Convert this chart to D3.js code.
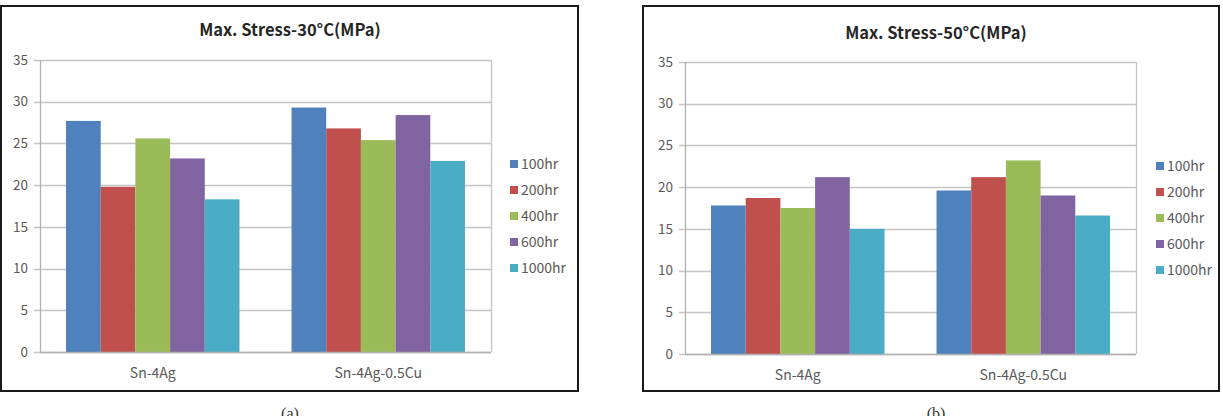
<!DOCTYPE html>
<html>
<head>
<meta charset="utf-8">
<script src="https://cdn.jsdelivr.net/npm/d3@7"></script>
<style>
  html, body { margin: 0; padding: 0; background: #fff; }
  svg { display: block; }
</style>
</head>
<body>
<svg id="chart" width="1223" height="416"></svg>
<script>
// ---- data ----
const categories = ["Sn-4Ag", "Sn-4Ag-0.5Cu"];
const seriesNames = ["100hr", "200hr", "400hr", "600hr", "1000hr"];
const seriesColors = ["#4f81bd", "#c0504d", "#9bbb59", "#8064a2", "#4bacc6"];
const yTicks = [0, 5, 10, 15, 20, 25, 30, 35];

// values per series, per category (Sn-4Ag, Sn-4Ag-0.5Cu)
const stress30_100hr  = [27.7, 29.3];
const stress30_200hr  = [19.8, 26.8];
const stress30_400hr  = [25.6, 25.4];
const stress30_600hr  = [23.2, 28.4];
const stress30_1000hr = [18.3, 22.9];

const stress50_100hr  = [17.8, 19.6];
const stress50_200hr  = [18.7, 21.2];
const stress50_400hr  = [17.5, 23.2];
const stress50_600hr  = [21.2, 19.0];
const stress50_1000hr = [15.0, 16.6];

const title30 = "Max. Stress-30°C(MPa)";
const title50 = "Max. Stress-50°C(MPa)";
const caption30 = "(a)";
const caption50 = "(b)";

// ---- drawing ----
const svg = d3.select("#chart");
const FONT = "'Noto Sans CJK KR', 'Noto Sans', sans-serif";

function drawChart(opt) {
  const g = svg.append("g");
  const seriesData = opt.series;

  // outer frame
  g.append("rect")
    .attr("x", opt.frame.x).attr("y", opt.frame.y)
    .attr("width", opt.frame.w).attr("height", opt.frame.h)
    .attr("fill", "#fff").attr("stroke", "#1a1a1a").attr("stroke-width", 2);

  const x0 = d3.scaleBand().domain(categories).range([opt.plot.x, opt.plot.x + opt.plot.w]).padding(0);
  const x1 = d3.scaleBand().domain(seriesNames).range([0, x0.bandwidth()]).paddingInner(0).paddingOuter(0.75);
  const y = d3.scaleLinear().domain([0, 35]).range([opt.plot.y + opt.plot.h, opt.plot.y]);

  // gridlines
  g.append("g").selectAll("line").data(yTicks).join("line")
    .attr("x1", opt.plot.x - 6).attr("x2", opt.plot.x + opt.plot.w)
    .attr("y1", d => Math.round(y(d)) + 0.5).attr("y2", d => Math.round(y(d)) + 0.5)
    .attr("stroke", "#c4c4c4").attr("stroke-width", 1.3);

  // plot outline (right side)
  g.append("line")
    .attr("x1", opt.plot.x + opt.plot.w + 0.5).attr("x2", opt.plot.x + opt.plot.w + 0.5)
    .attr("y1", y(35)).attr("y2", y(0))
    .attr("stroke", "#c4c4c4").attr("stroke-width", 1.3);

  // bars
  const groups = g.append("g").selectAll("g").data(categories).join("g")
    .attr("transform", c => `translate(${x0(c)},0)`);
  groups.selectAll("rect")
    .data((c, ci) => seriesNames.map((s, si) => ({ s, si, v: seriesData[si][ci] })))
    .join("rect")
    .attr("x", d => x1(d.s))
    .attr("width", x1.bandwidth())
    .attr("y", d => y(d.v))
    .attr("height", d => y(0) - y(d.v))
    .attr("fill", d => seriesColors[d.si]);

  // axis lines (left + bottom)
  g.append("line")
    .attr("x1", opt.plot.x + 0.5).attr("x2", opt.plot.x + 0.5)
    .attr("y1", y(35)).attr("y2", y(0))
    .attr("stroke", "#b0b0b0").attr("stroke-width", 1.3);
  g.append("line")
    .attr("x1", opt.plot.x).attr("x2", opt.plot.x + opt.plot.w)
    .attr("y1", Math.round(y(0)) + 0.5).attr("y2", Math.round(y(0)) + 0.5)
    .attr("stroke", "#b0b0b0").attr("stroke-width", 1.3);

  // y tick labels
  g.append("g").selectAll("text").data(yTicks).join("text")
    .attr("x", opt.plot.x - 12).attr("y", d => y(d))
    .attr("dy", "0.35em").attr("text-anchor", "end")
    .attr("font-family", FONT)
    .attr("font-size", 13.5).attr("fill", "#595959")
    .text(d => d);

  // x category labels
  g.append("g").selectAll("text").data(categories).join("text")
    .attr("x", c => x0(c) + x0.bandwidth() / 2).attr("y", y(0) + 21)
    .attr("dy", "0.35em").attr("text-anchor", "middle")
    .attr("font-family", FONT)
    .attr("font-size", 14).attr("fill", "#595959")
    .text(c => c);

  // title
  g.append("text")
    .attr("x", opt.titleX).attr("y", opt.titleY)
    .attr("dy", "0.35em").attr("text-anchor", "middle")
    .attr("font-family", FONT)
    .attr("font-weight", "bold").attr("font-size", 16.5).attr("fill", "#262626")
    .text(opt.title);

  // legend
  const leg = g.append("g").selectAll("g").data(seriesNames).join("g")
    .attr("transform", (s, i) => `translate(${opt.legend.x},${opt.legend.y + i * opt.legend.step})`);
  leg.append("rect").attr("x", 0).attr("y", -4).attr("width", 8).attr("height", 8)
    .attr("fill", (s, i) => seriesColors[i]);
  leg.append("text").attr("x", 11).attr("y", 0).attr("dy", "0.35em")
    .attr("font-family", FONT)
    .attr("font-size", 14).attr("fill", "#595959")
    .text(s => s);

  // caption below
  svg.append("text")
    .attr("x", opt.titleX).attr("y", 419)
    .attr("text-anchor", "middle")
    .attr("font-family", "'Liberation Serif', serif")
    .attr("font-size", 16).attr("fill", "#333")
    .text(opt.caption);
}

drawChart({
  frame: { x: 1, y: 6, w: 577, h: 385 },
  plot: { x: 40, y: 60, w: 451, h: 292 },
  series: [stress30_100hr, stress30_200hr, stress30_400hr, stress30_600hr, stress30_1000hr],
  title: title30, titleX: 290, titleY: 30,
  legend: { x: 510, y: 164, step: 26 },
  caption: caption30
});

drawChart({
  frame: { x: 643, y: 6, w: 576, h: 385 },
  plot: { x: 685, y: 62, w: 451, h: 292 },
  series: [stress50_100hr, stress50_200hr, stress50_400hr, stress50_600hr, stress50_1000hr],
  title: title50, titleX: 936, titleY: 33,
  legend: { x: 1156, y: 166, step: 26 },
  caption: caption50
});
</script>
</body>
</html>
